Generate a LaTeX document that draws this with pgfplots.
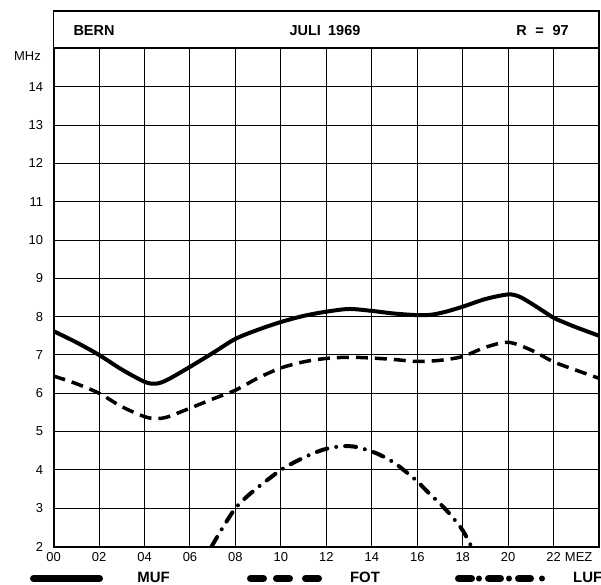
\documentclass[border=0pt]{standalone}
\usepackage{fontspec}
\setmainfont{Liberation Sans}
\usepackage{pgfplots}
\pgfplotsset{compat=1.18}
\begin{document}
\begin{tikzpicture}[x=1bp,y=1bp]
\begin{axis}[
  at={(0,0)}, anchor=south west,
  scale only axis, width=545.5bp, height=498bp,
  xmin=0, xmax=24, ymin=2, ymax=15,
  xtick={0,2,...,22},
  xticklabels={00,02,04,06,08,10,12,14,16,18,20,22},
  extra x ticks={23.1}, extra x tick labels={MEZ},
  extra x tick style={grid=none},
  ytick={2,3,...,14},
  grid=major,
  major grid style={black, line width=1bp},
  axis line style={black, line width=2bp},
  major tick length=0pt,
  tick style={draw=none},
  tick label style={font=\fontsize{13}{15}\selectfont, text=black},
  /pgf/number format/assume math mode=true,
  yticklabel style={xshift=-7bp},
  xticklabel style={yshift=-2.5bp},
]
% MUF
\addplot[black, line width=4bp, smooth, tension=0.5] coordinates {
(0,7.62) (1,7.33) (2,7.0) (3,6.62) (4,6.3) (4.5,6.25) (5,6.35) (6,6.69) (7,7.05) (8,7.42) (9,7.66) (10,7.86) (11,8.02) (12,8.13) (13,8.2) (14,8.15) (15,8.08) (16,8.04) (16.6,8.05) (17.2,8.12) (18,8.26) (19,8.46) (20,8.58) (20.5,8.52) (21,8.35) (21.5,8.16) (22,7.97) (22.5,7.84) (23,7.72) (24,7.5)
};
% FOT
\addplot[black, line width=3.5bp, smooth, tension=0.5, dash pattern=on 12bp off 7bp] coordinates {
(0,6.45) (1,6.25) (2,6.0) (3,5.65) (4,5.39) (4.5,5.34) (5,5.38) (6,5.61) (7,5.85) (8,6.08) (9,6.4) (10,6.66) (11,6.82) (12,6.91) (13,6.94) (14,6.92) (15,6.88) (16,6.83) (17,6.86) (18,6.96) (19,7.2) (20,7.33) (21,7.13) (22,6.82) (23,6.6) (24,6.39)
};
% LUF
\addplot[black, line width=4bp, smooth, tension=0.5, line cap=round, dash pattern=on 11bp off 9bp on 0bp off 9bp] coordinates {
(6.95,2.0) (7.5,2.55) (8,3.0) (8.5,3.3) (9,3.55) (9.5,3.78) (10,4.0) (10.5,4.17) (11,4.32) (11.5,4.45) (12,4.55) (12.7,4.62) (13.3,4.6) (14,4.48) (14.5,4.35) (15,4.18) (15.5,3.95) (16,3.7) (16.5,3.4) (17,3.12) (17.5,2.8) (18,2.42) (18.38,2.0)
};
\end{axis}
% header box
\draw[line width=1.8bp] (0,498) rectangle (545.5,535.8);
\node[font=\fontsize{14.5}{16}\selectfont\bfseries, inner sep=0] at (40.4,515.5) {BERN};
\node[font=\fontsize{14.5}{16}\selectfont\bfseries, inner sep=0] at (271.4,515.5) {JULI\hspace{0.5em}1969};
\node[font=\fontsize{14.5}{16}\selectfont\bfseries, inner sep=0] at (488.9,515.5) {R\hspace{0.6em}=\hspace{0.6em}97};
% MHz
\node[font=\fontsize{13}{15}\selectfont, inner sep=0, anchor=east] at (-12.6,490.8) {MHz};
% legend
\draw[line width=7bp, line cap=round] (-20.1,-32) -- (45.9,-32);
\node[font=\fontsize{15}{17}\selectfont\bfseries, inner sep=0] at (99.9,-30.5) {MUF};
\draw[line width=7bp, line cap=round] (196.9,-32) -- (209.9,-32);
\draw[line width=7bp, line cap=round] (222.9,-32) -- (235.9,-32);
\draw[line width=7bp, line cap=round] (251.9,-32) -- (264.9,-32);
\node[font=\fontsize{15}{17}\selectfont\bfseries, inner sep=0] at (311.4,-30.5) {FOT};
\draw[line width=7bp, line cap=round] (404.9,-32) -- (417.9,-32);
\fill (425.4,-32) circle (3bp);
\draw[line width=7bp, line cap=round] (434.9,-32) -- (446.9,-32);
\fill (455.4,-32) circle (3bp);
\draw[line width=7bp, line cap=round] (464.9,-32) -- (476.9,-32);
\fill (488.4,-32) circle (3bp);
\node[font=\fontsize{15}{17}\selectfont\bfseries, inner sep=0, anchor=west] at (519.4,-30.5) {LUF};
\pgfresetboundingbox
\useasboundingbox (-53.6,-38.5) rectangle (547.4,546.5);
\end{tikzpicture}
\end{document}
